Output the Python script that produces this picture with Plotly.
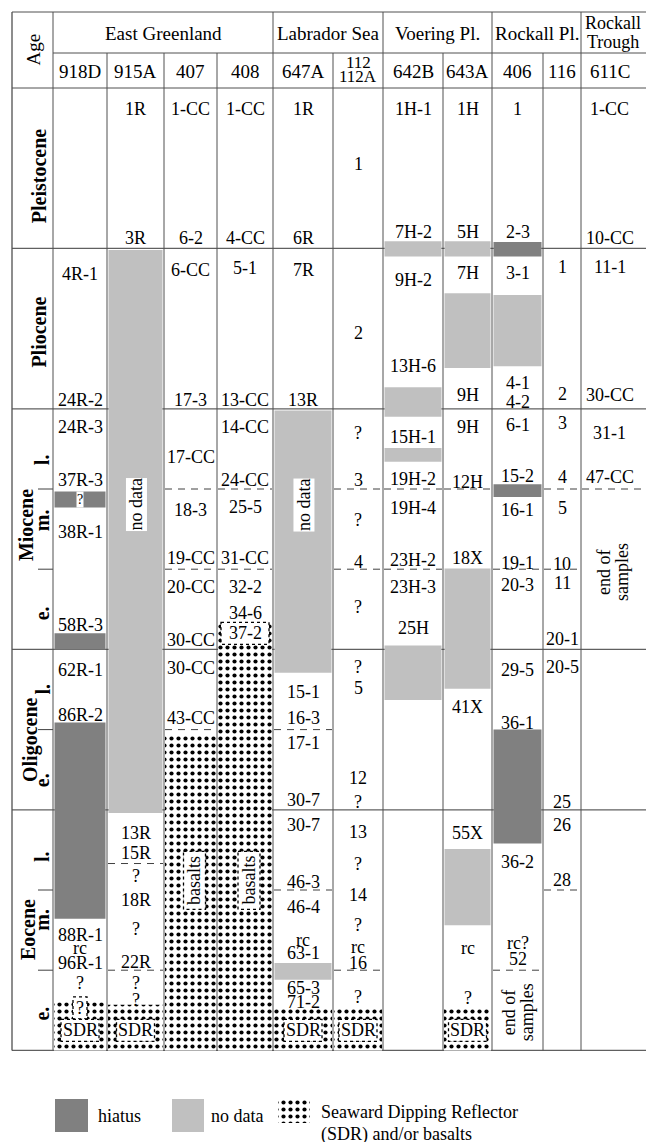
import plotly.graph_objects as go

# ---------------- data ----------------
SITES = ["918D", "915A", "407", "408", "647A", "112", "642B", "643A", "406", "116", "611C"]
REGIONS = ["East Greenland", "Labrador Sea", "Voering Pl.", "Rockall Pl.", "Rockall Trough"]
REGION_FIRST_SITE = [0, 4, 6, 8, 10]
EPOCHS = ["Pleistocene", "Pliocene", "Miocene", "Oligocene", "Eocene"]
EPOCH_BOUNDS = [0, 2, 4, 7, 9, 12]          # stratigraphic units (top -> base)
SUB_LABELS = ["l.", "m.", "e.", "l.", "e.", "l.", "m.", "e."]
SUB_POS = [4.64, 5.39, 6.55, 7.5, 8.63, 9.59, 10.37, 11.54]
SUB_BOUNDS = [5, 6, 8, 10, 11]

# core/sample labels per site: (text, stratigraphic position)
L918D = [("4R-1", 2.32), ("24R-2", 3.89), ("24R-3", 4.23), ("37R-3", 4.89), ("38R-1", 5.54),
         ("58R-3", 6.70), ("62R-1", 7.26), ("86R-2", 7.82), ("88R-1", 10.56), ("rc", 10.72),
         ("96R-1", 10.91), ("?", 11.16)]
L915A = [("1R", 0.26), ("3R", 1.87), ("13R", 9.29), ("15R", 9.54), ("?", 9.83), ("18R", 10.12),
         ("?", 10.48), ("22R", 10.90), ("?", 11.16), ("?", 11.37)]
L407 = [("1-CC", 0.26), ("6-2", 1.87), ("6-CC", 2.27), ("17-3", 3.89), ("17-CC", 4.6), ("18-3", 5.26),
        ("19-CC", 5.86), ("20-CC", 6.22), ("30-CC", 6.88), ("30-CC", 7.23), ("43-CC", 7.86)]
L408 = [("1-CC", 0.26), ("4-CC", 1.87), ("5-1", 2.25), ("13-CC", 3.89), ("14-CC", 4.23), ("24-CC", 4.89),
        ("25-5", 5.22), ("31-CC", 5.86), ("32-2", 6.22), ("34-6", 6.55)]
L647A = [("1R", 0.26), ("6R", 1.87), ("7R", 2.27), ("13R", 3.89), ("15-1", 7.53), ("16-3", 7.86),
         ("17-1", 8.17), ("30-7", 8.88), ("30-7", 9.19), ("46-3", 9.9), ("46-4", 10.21), ("rc", 10.62),
         ("63-1", 10.79), ("65-3", 11.22), ("71-2", 11.40)]
L112 = [("1", 0.95), ("2", 3.05), ("?", 4.3), ("3", 4.89), ("?", 5.39), ("4", 5.91), ("?", 6.47),
        ("?", 7.22), ("5", 7.48), ("12", 8.6), ("?", 8.9), ("13", 9.28), ("?", 9.67), ("14", 10.06),
        ("?", 10.44), ("rc", 10.71), ("16", 10.91), ("?", 11.33)]
L642B = [("1H-1", 0.26), ("7H-2", 1.8), ("9H-2", 2.39), ("13H-6", 3.47), ("15H-1", 4.35), ("19H-2", 4.88),
         ("19H-4", 5.24), ("23H-2", 5.89), ("23H-3", 6.22), ("25H", 6.73)]
L643A = [("1H", 0.26), ("5H", 1.8), ("7H", 2.31), ("9H", 3.83), ("9H", 4.23), ("12H", 4.91), ("18X", 5.86),
         ("41X", 7.72), ("55X", 9.29), ("rc", 10.72), ("?", 11.35)]
L406 = [("1", 0.26), ("2-3", 1.8), ("3-1", 2.31), ("4-1", 3.68), ("4-2", 3.91), ("6-1", 4.2), ("15-2", 4.84),
        ("16-1", 5.26), ("19-1", 5.92), ("20-3", 6.2), ("29-5", 7.26), ("36-1", 7.92), ("36-2", 9.65),
        ("rc?", 10.66), ("52", 10.86)]
L116 = [("1", 2.23), ("2", 3.82), ("3", 4.18), ("4", 4.85), ("5", 5.24), ("10", 5.94), ("11", 6.17),
        ("20-1", 6.87), ("20-5", 7.22), ("25", 8.9), ("26", 9.19), ("28", 9.87)]
L611C = [("1-CC", 0.26), ("10-CC", 1.87), ("11-1", 2.23), ("30-CC", 3.83), ("31-1", 4.3), ("47-CC", 4.85)]
SITE_LABELS = [L918D, L915A, L407, L408, L647A, L112, L642B, L643A, L406, L116, L611C]

# intervals: (site index, top, base)
HIATUS = [(0, 5.03, 5.23), (0, 6.80, 7.0), (0, 7.91, 10.36), (8, 1.92, 2.1), (8, 4.94, 5.1), (8, 8.0, 9.42)]
NO_DATA = [(1, 2.02, 9.04), (4, 4.02, 7.29), (4, 10.91, 11.12), (6, 1.91, 2.1), (6, 3.73, 4.1),
           (6, 4.49, 4.66), (6, 6.95, 7.63), (7, 1.91, 2.1), (7, 2.56, 3.49), (7, 5.99, 7.49),
           (7, 9.49, 10.44), (8, 2.58, 3.47)]
SDR = [(0, 11.40, 12), (1, 11.43, 12), (2, 8.07, 12), (3, 6.66, 12), (4, 11.47, 12), (5, 11.47, 12),
       (7, 11.47, 12)]
# boxed tags inside patterned intervals: (site, text, position)
BOX_TAGS = [(0, "?", 11.47), (0, "SDR", 11.75), (1, "SDR", 11.75), (3, "37-2", 6.80), (4, "SDR", 11.75),
            (5, "SDR", 11.75), (7, "SDR", 11.75)]
BASALT_TAGS = [(2, "basalts", 9.88), (3, "basalts", 9.88)]
NODATA_TAGS = [(1, "no data", 5.2), (4, "no data", 5.2)]
HIATUS_Q = [(0, "?", 5.13)]
END_TAGS = [(8, 11.53), (10, 6.04)]
# dashed sub-epoch correlation lines: position -> sites
DASHES = {5.0: [2, 3, 5, 6, 7, 9, 10], 6.0: [2, 3, 5, 6, 8, 9], 8.0: [2, 4], 9.67: [1],
          10.0: [4, 9], 11.0: [1, 5, 8]}
LEGEND_LABELS = ["hiatus", "no data", "Seaward Dipping Reflector", "(SDR) and/or basalts"]

# ---------------- layout constants ----------------
FONT = "Liberation Serif"
HIATUS_C = "#808080"
NODATA_C = "#c0c0c0"
LINE_C = "#505050"
W, H = 646, 1142
X_LEFT, X_AGE = 12, 53
COL_EDGES = [53, 107, 164, 217, 273, 333, 383, 443, 492, 543, 581, 646]
PX_HEAD = 88
U_PX = 80.2
LBL = 18


def u(px):
    return (px - PX_HEAD) / U_PX


def cx(i):
    return (COL_EDGES[i] + COL_EDGES[i + 1]) / 2


shapes, annotations = [], []
fig = go.Figure()


def line(x0, y0, x1, y1, color=LINE_C, width=1.0, dash=None):
    ln = dict(color=color, width=width)
    if dash:
        ln["dash"] = dash
    shapes.append(dict(type="line", xref="x", yref="y", x0=x0, y0=y0, x1=x1, y1=y1, line=ln, layer="below"))


def rect(x0, y0, x1, y1, fill, layer="below", border=None, dash=None):
    ln = dict(width=0) if border is None else dict(color=border, width=1.3, dash=dash)
    shapes.append(dict(type="rect", xref="x", yref="y", x0=x0, y0=y0, x1=x1, y1=y1,
                       fillcolor=fill, line=ln, layer=layer))


def text(x, y, s, size=LBL, bold=False, angle=0, bg=None, xanchor="center", family=FONT):
    annotations.append(dict(x=x, y=y, xref="x", yref="y", text=f"<b>{s}</b>" if bold else s,
                            showarrow=False, font=dict(family=family, size=size, color="black"),
                            textangle=angle, xanchor=xanchor, yanchor="middle",
                            bgcolor=bg, borderpad=0))


def pattern(x0, y0, x1, y1):
    fig.add_trace(go.Scatter(x=[x0, x1, x1, x0, x0], y=[y0, y0, y1, y1, y0], mode="lines",
                             fill="toself", line=dict(width=0), hoverinfo="skip", showlegend=False,
                             fillcolor="white",
                             fillpattern=dict(shape=".", fgcolor="black", bgcolor="white",
                                              fgopacity=1, size=7, solidity=0.28)))


# frame lines
top_u, mid_u = u(12), u(53)
line(X_LEFT, top_u, W, top_u)
line(X_AGE, mid_u, W, mid_u)
line(X_LEFT, 0, W, 0)
for b in EPOCH_BOUNDS[1:]:
    line(X_LEFT, b, W, b, color="#606060", width=1.3)
for b in SUB_BOUNDS:
    line(38, b, X_AGE, b, color="#404040")
line(X_LEFT, top_u, X_LEFT, 12, width=1.3)
line(X_AGE, top_u, X_AGE, 12)
for i in range(1, len(SITES)):
    start = top_u if i in REGION_FIRST_SITE else mid_u
    line(COL_EDGES[i], start, COL_EDGES[i], 12)

# dashed lines
for pos, sites in DASHES.items():
    for s in sites:
        line(COL_EDGES[s] + 1, pos, COL_EDGES[s + 1] - 1, pos, color="#404040", dash="7px,6px")

# intervals
INSET = 1.5
for s, a, b in NO_DATA:
    rect(COL_EDGES[s] + INSET, a, COL_EDGES[s + 1] - INSET, b, NODATA_C)
for s, a, b in HIATUS:
    rect(COL_EDGES[s] + INSET, a, COL_EDGES[s + 1] - INSET, b, HIATUS_C)
for s, a, b in SDR:
    pattern(COL_EDGES[s] + 1, a, COL_EDGES[s + 1] - 1, b)

# boxed tags
for s, t, p in BOX_TAGS:
    w = 8 + 10 * len(t) if len(t) > 1 else 14
    h = 22 / U_PX
    rect(cx(s) - w / 2, p - h / 2, cx(s) + w / 2, p + h / 2, "white", layer="above", border="black", dash="dot")
    text(cx(s), p, t)
for s, t, p in BASALT_TAGS:
    hw, hh = 11, 29 / U_PX
    x = cx(s) + 4
    rect(x - hw, p - hh, x + hw, p + hh, "white", layer="above", border="black", dash="dot")
    text(x, p, t, angle=-90)
for s, t, p in NODATA_TAGS:
    text(cx(s) + 1, p, t, angle=-90, bg="white")
for s, t, p in HIATUS_Q:
    text(cx(s), p, t, size=14, bg="white")
for s, p in END_TAGS:
    text(cx(s) - 9, p, "end of", angle=-90)
    text(cx(s) + 9, p, "samples", angle=-90)

# sample labels
for s, labels in enumerate(SITE_LABELS):
    xs = cx(s) if s != 10 else cx(s) - 4
    for t, p in labels:
        text(xs, p, t)

# epoch labels
EPOCH_X = [39, 39, 26, 30, 28]
EPOCH_Y = [1.1, 3.05, 5.45, 8.13, 10.5]
for name, x, y in zip(EPOCHS, EPOCH_X, EPOCH_Y):
    text(x, y, name, size=20, bold=True, angle=-90)
for lab, y in zip(SUB_LABELS, SUB_POS):
    text(42, y, lab, size=20, bold=True, angle=-90)

# headers
text((X_LEFT + X_AGE) / 2, u(50), "Age", size=19, angle=-90)
region_edges = [COL_EDGES[i] for i in REGION_FIRST_SITE] + [W]
for k, name in enumerate(REGIONS):
    xc = (region_edges[k] + region_edges[k + 1]) / 2
    if name == "Rockall Trough":
        text(xc - 1, u(23), "Rockall", size=18)
        text(xc - 1, u(42), "Trough", size=18)
    else:
        text(xc, u(33), name, size=19)
for i, s in enumerate(SITES):
    if s == "112":
        text(cx(i), u(62), "112", size=17)
        text(cx(i), u(76), "112A", size=17)
    else:
        text(cx(i) if i != 10 else cx(i) - 4, u(71), s, size=19)

# legend
ly0, ly1 = u(1099), u(1132)
rect(55, ly0, 88, ly1, HIATUS_C, layer="above")
text(97, u(1116), LEGEND_LABELS[0], xanchor="left")
rect(172, ly0, 204, ly1, NODATA_C, layer="above")
text(210, u(1116), LEGEND_LABELS[1], xanchor="left")
pattern(278, ly0, 310, u(1123))
text(320, u(1112), LEGEND_LABELS[2], xanchor="left")
text(320, u(1134), LEGEND_LABELS[3], xanchor="left")

fig.update_layout(
    width=W, height=H, margin=dict(l=0, r=0, t=0, b=0),
    paper_bgcolor="white", plot_bgcolor="white",
    xaxis=dict(range=[0, W], visible=False, fixedrange=True),
    yaxis=dict(range=[u(H), u(0)], visible=False, fixedrange=True),
    shapes=shapes, annotations=annotations, showlegend=False,
)
fig.write_html("out.html", config={"displayModeBar": False},
               post_script="document.body.style.margin='0';")
